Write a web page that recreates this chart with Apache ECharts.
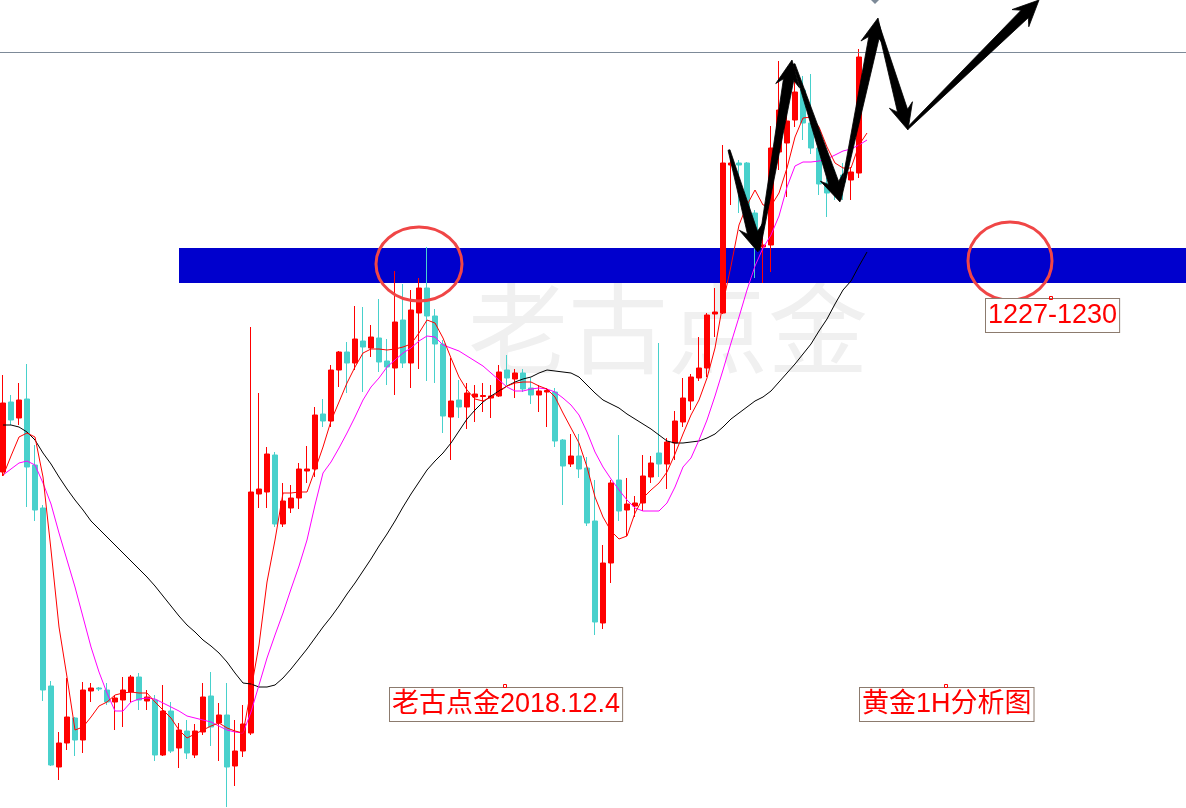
<!DOCTYPE html>
<html>
<head>
<meta charset="utf-8">
<script src="https://cdn.jsdelivr.net/npm/echarts@6/dist/echarts.min.js"></script>
<style>
html,body{margin:0;padding:0;background:#ffffff;}
#chart{width:1186px;height:808px;}
</style>
</head>
<body>
<div id="chart"></div>
<script>
// ---------- DATA (gold, 1H) ----------
// candle: [open, close, low, high]
const candles = [
[1207.8,1214.7,1207.4,1217.5],[1214.8,1213.0,1212.5,1215.5],[1213.2,1215.0,1212.5,1216.7],[1215.1,1208.3,1204.3,1218.6],
[1208.5,1204.0,1202.9,1210.5],[1204.2,1186.0,1184.9,1204.5],[1186.4,1178.5,1178.4,1186.9],[1178.3,1180.7,1177.0,1181.8],
[1180.7,1183.3,1180.0,1187.2],[1183.2,1181.0,1179.4,1183.3],[1181.0,1186.0,1179.7,1186.8],[1185.9,1186.2,1184.8,1186.7],
[1186.2,1186.1,1185.9,1186.3],[1186.0,1184.8,1184.5,1186.7],[1184.8,1185.2,1182.0,1185.5],[1185.0,1186.0,1182.3,1187.3],
[1185.8,1187.3,1184.8,1187.5],[1187.3,1185.0,1184.0,1187.7],[1184.9,1185.3,1184.0,1186.0],[1185.0,1179.5,1178.9,1185.5],
[1179.5,1183.9,1179.4,1186.5],[1183.9,1179.9,1179.7,1184.8],[1180.2,1182.0,1178.2,1182.7],[1181.9,1179.7,1179.1,1183.0],
[1179.5,1181.9,1179.2,1182.6],[1181.8,1185.3,1181.5,1186.7],[1185.4,1182.3,1180.4,1187.8],[1182.7,1183.5,1178.9,1184.7],
[1183.5,1178.3,1174.3,1186.7],[1178.4,1179.9,1176.4,1183.0],[1179.9,1182.6,1179.3,1184.5],[1181.7,1205.8,1181.5,1222.3],
[1205.6,1206.1,1204.2,1215.7],[1205.8,1209.6,1204.2,1210.3],[1209.5,1202.6,1202.3,1209.8],[1202.6,1204.9,1202.3,1206.7],
[1204.2,1205.2,1203.7,1206.5],[1205.2,1208.1,1204.1,1208.7],[1207.9,1208.1,1206.7,1210.4],[1208.1,1213.5,1207.3,1214.3],
[1213.6,1212.9,1212.3,1215.1],[1212.9,1218.0,1212.3,1218.5],[1218.0,1219.8,1216.3,1219.9],[1219.8,1218.7,1215.7,1220.8],
[1218.7,1221.1,1218.0,1224.4],[1220.9,1220.3,1215.8,1224.3],[1220.2,1221.3,1219.3,1222.5],[1221.2,1218.8,1217.8,1225.1],
[1218.9,1218.3,1216.5,1221.1],[1218.2,1222.8,1215.5,1227.9],[1223.0,1218.7,1218.2,1226.6],[1218.7,1224.0,1216.2,1226.0],
[1223.7,1226.2,1218.1,1227.2],[1226.2,1223.4,1216.9,1230.3],[1223.4,1220.6,1216.7,1224.1],[1220.6,1213.4,1211.7,1221.0],
[1213.3,1214.9,1209.0,1219.2],[1215.0,1214.3,1213.2,1217.0],[1214.3,1215.7,1212.1,1216.7],[1215.3,1215.6,1212.8,1216.5],
[1215.35,1215.45,1213.8,1216.7],[1215.2,1215.4,1213.2,1216.5],[1215.4,1217.8,1215.3,1218.5],[1218.0,1217.2,1216.5,1219.5],
[1217.1,1217.7,1215.2,1218.1],[1217.7,1216.1,1215.8,1218.1],[1216.2,1215.5,1214.6,1217.2],[1215.5,1215.9,1213.8,1216.5],
[1215.8,1215.95,1212.3,1216.2],[1215.8,1210.9,1210.3,1216.2],[1211.0,1208.4,1204.5,1211.1],[1208.6,1209.4,1208.3,1211.6],
[1209.4,1208.1,1207.2,1211.6],[1208.2,1202.7,1202.4,1209.3],[1202.9,1192.8,1191.5,1207.0],[1192.7,1198.7,1192.1,1200.5],
[1198.7,1206.7,1196.7,1207.0],[1207.0,1203.9,1202.9,1211.5],[1204.0,1204.6,1201.4,1207.2],[1204.4,1204.7,1203.3,1205.4],
[1204.7,1207.4,1203.9,1209.5],[1207.3,1208.7,1206.7,1209.4],[1209.7,1208.6,1207.3,1220.7],[1208.6,1210.8,1206.1,1211.2],
[1210.7,1212.9,1209.0,1213.9],[1212.8,1215.2,1212.3,1217.2],[1214.9,1217.3,1214.0,1217.6],[1217.2,1218.2,1216.9,1221.3],
[1218.2,1223.5,1217.3,1223.7],[1223.6,1223.8,1221.3,1226.2],[1223.7,1238.7,1223.6,1240.5],[1238.5,1238.7,1234.5,1239.8],
[1238.7,1238.5,1233.7,1239.0],[1238.7,1234.0,1233.5,1238.8],[1233.7,1231.7,1227.2,1234.0],[1230.3,1230.5,1226.7,1232.2],
[1230.5,1240.2,1227.8,1242.4],[1239.8,1244.0,1238.0,1248.9],[1240.7,1242.9,1235.3,1244.5],[1243.0,1245.8,1242.3,1248.5],
[1246.0,1242.7,1241.0,1247.4],[1242.7,1240.2,1239.6,1247.6],[1240.2,1236.6,1235.5,1240.5],[1236.7,1235.7,1233.3,1237.2],
[1237.0,1236.0,1235.0,1238.0],[1237.5,1236.8,1235.0,1238.7],[1237.0,1237.8,1235.0,1238.3],[1237.7,1249.3,1237.2,1250.1]
];

// moving averages
const maFast = [
1207.4,1209.4,1211.3,1211.7,1211.3,1207.3,1200.0,1192.3,1187.3,1182.0,
1182.3,1183.3,1184.4,1184.8,1185.5,1185.7,1185.8,1185.7,1185.7,1184.8,
1184.0,1183.2,1182.0,1181.2,1181.6,1182.0,1182.4,1182.7,1182.2,1181.9,
1181.7,1186.0,1190.5,1196.8,1201.0,1205.7,1205.7,1205.8,1205.8,1208.0,
1210.3,1212.9,1214.8,1216.7,1218.3,1219.7,1220.1,1220.1,1220.0,1220.1,
1220.3,1220.6,1221.7,1223.0,1222.7,1221.2,1219.2,1217.3,1216.0,1215.1,
1214.9,1215.3,1215.8,1216.4,1216.7,1216.8,1216.8,1216.4,1216.1,1215.3,
1213.7,1212.2,1210.7,1208.3,1205.3,1203.3,1201.9,1201.1,1201.4,1203.7,
1205.2,1206.0,1206.7,1207.8,1209.6,1211.6,1213.5,1215.0,1217.2,1220.2,
1224.7,1228.4,1232.5,1234.5,1236.0,1234.5,1234.4,1235.7,1238.2,1241.3,
1243.2,1243.3,1242.3,1240.3,1238.7,1238.2,1238.2,1240.5,1241.7
];
const maMid = [
1207.5,1208.1,1208.7,1208.9,1208.5,1206.7,1204.6,1201.7,1199.0,1196.3,
1193.3,1190.3,1187.8,1185.7,1183.9,1183.9,1184.8,1185.1,1185.2,1185.1,
1184.7,1184.3,1183.9,1183.4,1183.2,1183.0,1182.8,1182.4,1182.0,1181.8,
1181.7,1183.8,1186.5,1189.2,1191.5,1193.7,1196.1,1198.4,1201.0,1204.5,
1207.7,1208.8,1210.2,1211.7,1213.3,1215.0,1216.3,1217.2,1218.3,1219.0,
1219.7,1220.2,1220.9,1221.4,1221.3,1220.5,1220.2,1219.9,1219.4,1218.9,
1218.4,1217.7,1217.0,1216.3,1215.9,1215.9,1216.1,1216.2,1216.1,1215.8,
1215.2,1214.5,1213.5,1211.8,1209.8,1208.3,1207.1,1206.0,1205.0,1204.2,
1203.9,1203.9,1203.9,1204.7,1206.3,1208.3,1209.2,1211.0,1213.0,1215.4,
1218.0,1220.7,1223.3,1226.0,1228.4,1230.2,1231.5,1233.4,1236.3,1238.4,
1238.8,1238.8,1238.9,1239.1,1239.5,1239.9,1240.1,1240.5,1241.0
];
const maSlow = [
1212.5,1212.5,1212.3,1211.8,1211.0,1209.7,1208.6,1207.3,1206.1,1205.0,
1204.0,1202.9,1202.1,1201.3,1200.5,1199.7,1198.9,1198.1,1197.3,1196.4,
1195.4,1194.4,1193.4,1192.5,1191.8,1191.0,1190.4,1189.7,1188.8,1187.7,
1186.7,1186.6,1186.3,1186.3,1186.5,1187.2,1188.1,1189.1,1190.1,1191.2,
1192.3,1193.3,1194.4,1195.6,1196.7,1197.9,1199.1,1200.4,1201.6,1202.9,
1204.3,1205.6,1206.8,1208.0,1208.9,1209.7,1210.7,1211.9,1213.1,1214.0,
1214.8,1215.4,1215.9,1216.4,1216.8,1217.1,1217.3,1217.7,1218.0,1217.9,
1217.8,1217.7,1217.3,1216.5,1215.7,1215.0,1214.6,1214.2,1213.6,1213.1,
1212.6,1212.1,1211.5,1210.9,1210.7,1210.7,1210.8,1210.9,1211.2,1211.6,
1212.3,1213.1,1213.7,1214.3,1214.9,1215.3,1215.9,1216.8,1217.7,1218.6,
1219.6,1220.6,1221.9,1223.1,1224.6,1226.0,1226.9,1228.4,1229.8
];

// slot labels (hour bars; the chart leaves empty room on the right)
const slotCount = 149;
const categories = [];
for (let k = 0; k < slotCount; k++) categories.push('H' + k);

// resistance band and reference line
const bandStartSlot = 22;
const bandTop = 1230.2;
const bandBottom = 1226.7;
const topLine = 1249.8;

// annotation texts
const noteTexts = ['老古点金2018.12.4', '黄金1H分析图', '1227-1230'];
// annotation anchors in (slot, price)
const noteAnchors = [[48.375, 1186.2], [107.125, 1186.2], [122.875, 1225.1]];
const circleAnchors = [[52, 1228.6, 43, 37], [125.875, 1228.9, 42, 39]];
const tickAnchors = [[62.75, 1186.4], [117.875, 1186.4], [131, 1225.2]];
// arrow paths (slot, price): start -> tip
const arrowPaths = [
  [[90.75, 1240.0], [94.375, 1229.8]],
  [[94.5, 1230.0], [98.625, 1249.0]],
  [[98.875, 1248.6], [104.625, 1234.8]],
  [[104.625, 1235.0], [109.375, 1253.2]],
  [[109.375, 1252.6], [113.125, 1242.0]],
  [[113.125, 1242.2], [129.5, 1255.0]]
];
const watermark = '老古点金';

// ---------- CHART ----------
const chart = echarts.init(document.getElementById('chart'), null, {renderer: 'canvas'});
const option = {
  animation: false,
  backgroundColor: '#ffffff',
  grid: {left: -1, top: 0, width: slotCount * 8, height: 808, outerBoundsMode: 'none', containLabel: false},
  xAxis: {type: 'category', data: categories, show: false, boundaryGap: true},
  yAxis: {type: 'value', min: 1174.2, max: 1255, show: false, splitLine: {show: false}},
  series: [
    {
      type: 'line', name: 'zone', data: [], z: 1, silent: true,
      markArea: {
        silent: true,
        itemStyle: {color: '#0000cd'},
        data: [[{xAxis: bandStartSlot, yAxis: bandTop}, {xAxis: slotCount - 1, yAxis: bandBottom}]]
      },
      markLine: {
        silent: true, symbol: 'none', label: {show: false},
        lineStyle: {color: '#7d8a98', width: 1, type: 'solid'},
        data: [{yAxis: topLine}]
      }
    },
    {
      type: 'candlestick', name: 'XAUUSD', data: candles, z: 2, barWidth: 5,
      itemStyle: {color: '#ff0000', color0: '#48d1cc', borderColor: '#ff0000', borderColor0: '#48d1cc', borderWidth: 1}
    },
    {type: 'line', name: 'MA slow', data: maSlow, z: 3, symbol: 'none', silent: true,
     lineStyle: {color: '#000000', width: 1}},
    {type: 'line', name: 'MA mid', data: maMid, z: 3, symbol: 'none', silent: true,
     lineStyle: {color: '#ff00ff', width: 1}},
    {type: 'line', name: 'MA fast', data: maFast, z: 3, symbol: 'none', silent: true,
     lineStyle: {color: '#ff0000', width: 1}}
  ]
};
chart.setOption(option);

// helpers to place drawings through the axes
const x0 = chart.convertToPixel({xAxisIndex: 0}, 0);
const x1 = chart.convertToPixel({xAxisIndex: 0}, 1);
function toPx(slot, price) {
  return [x0 + (x1 - x0) * slot, chart.convertToPixel({yAxisIndex: 0}, price)];
}
function arrowPoly(S, T) {
  const dx = T[0] - S[0], dy = T[1] - S[1];
  const len = Math.hypot(dx, dy);
  const ux = dx / len, uy = dy / len, nx = -uy, ny = ux;
  const L = 26, H = 12, w0 = 1.0, w1 = 5.2, notch = 6;
  const bx = T[0] - ux * L, by = T[1] - uy * L;
  const sx = T[0] - ux * (L - notch), sy = T[1] - uy * (L - notch);
  return [
    [S[0] + nx * w0, S[1] + ny * w0],
    [sx + nx * w1, sy + ny * w1],
    [bx + nx * H, by + ny * H],
    [T[0], T[1]],
    [bx - nx * H, by - ny * H],
    [sx - nx * w1, sy - ny * w1],
    [S[0] - nx * w0, S[1] - ny * w0]
  ];
}

const graphics = [];
// watermark
const wm = toPx(58.125, 1227.2);
graphics.push({type: 'text', z: 0, silent: true, x: wm[0], y: wm[1],
  style: {text: watermark, font: '100px "Noto Sans CJK SC", sans-serif', fill: '#f0f0f0'}});
// circles
circleAnchors.forEach(c => {
  const p = toPx(c[0], c[1]);
  graphics.push({type: 'ellipse', z: 100, silent: true,
    shape: {cx: p[0], cy: p[1], rx: c[2], ry: c[3]},
    style: {fill: 'none', stroke: '#f04646', lineWidth: 3}});
});
// arrows
arrowPaths.forEach(a => {
  graphics.push({type: 'polygon', z: 101, silent: true,
    shape: {points: arrowPoly(toPx(a[0][0], a[0][1]), toPx(a[1][0], a[1][1]))},
    style: {fill: '#000000', stroke: '#000000', lineWidth: 0.8}});
});
// small marker at the top
const dm = toPx(109, 1255.1);
graphics.push({type: 'polygon', z: 101, silent: true,
  shape: {points: [[dm[0] - 5, dm[1]], [dm[0], dm[1] - 5], [dm[0] + 5, dm[1]], [dm[0], dm[1] + 5]]},
  style: {fill: '#7d8a98'}});
// text boxes
noteTexts.forEach((t, k) => {
  const p = toPx(noteAnchors[k][0], noteAnchors[k][1]);
  graphics.push({type: 'text', z: 102, silent: true, x: p[0], y: p[1],
    style: {text: t, font: '27px "Liberation Sans", "Noto Sans CJK SC", sans-serif', fill: '#ff0000',
      backgroundColor: '#ffffff', borderColor: '#8c7b6e', borderWidth: 1,
      padding: [2, 2, 1, 2], lineHeight: 30}});
});
// anchor ticks
tickAnchors.forEach(t => {
  const p = toPx(t[0], t[1]);
  graphics.push({type: 'rect', z: 103, silent: true,
    shape: {x: p[0] - 1.5, y: p[1] - 1.5, width: 3, height: 3},
    style: {fill: 'none', stroke: '#ff0000', lineWidth: 1}});
});
chart.setOption({graphic: graphics});
</script>
</body>
</html>
